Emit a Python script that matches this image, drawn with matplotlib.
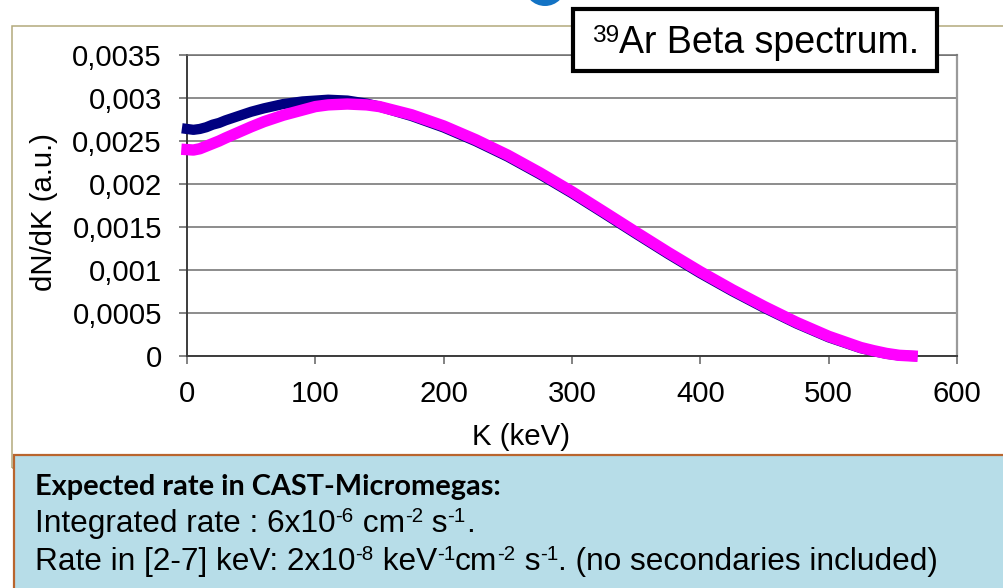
import matplotlib
matplotlib.use("Agg")
import matplotlib.pyplot as plt
from matplotlib.patches import Rectangle, Ellipse

# ---- data -------------------------------------------------------------
energy_kev = [0, 5, 10, 15, 20, 25, 30, 40, 50, 60, 75, 90, 100, 110, 125,
              140, 150, 175, 200, 225, 250, 275, 300, 325, 350, 375, 400,
              425, 450, 475, 500, 525, 535, 545, 555, 565]

spectrum_navy = [0.00264, 0.00263, 0.00264, 0.00266, 0.00269, 0.00271,
                 0.00274, 0.00279, 0.00284, 0.00288, 0.00293, 0.00296,
                 0.00297, 0.00298, 0.00297, 0.002935, 0.00290, 0.00279,
                 0.002657, 0.002497, 0.002317, 0.002112, 0.001892, 0.001657,
                 0.001420, 0.001186, 0.000962, 0.000753, 0.000558, 0.000377,
                 0.000217, 0.000091, 0.000056, 0.000026, 0.000006, 0.0]

spectrum_magenta = [0.00240, 0.002395, 0.00241, 0.00244, 0.00247, 0.00250,
                    0.002535, 0.00260, 0.002665, 0.002725, 0.00280, 0.00286,
                    0.00290, 0.00292, 0.00293, 0.00292, 0.00290, 0.002805,
                    0.002675, 0.002515, 0.002335, 0.002130, 0.001910,
                    0.001675, 0.001438, 0.001204, 0.000980, 0.000770,
                    0.000574, 0.000391, 0.000229, 0.000099, 0.000062,
                    0.000030, 0.000008, 0.0]

x_ticks = [0, 100, 200, 300, 400, 500, 600]
y_ticks = [0, 0.0005, 0.001, 0.0015, 0.002, 0.0025, 0.003, 0.0035]
y_tick_labels = ["0", "0,0005", "0,001", "0,0015", "0,002", "0,0025",
                 "0,003", "0,0035"]

x_label = "K (keV)"
y_label = "dN/dK (a.u.)"
title_parts = [("39", True), ("Ar Beta spectrum.", False)]
box_heading = "Expected rate in CAST-Micromegas:"
box_line1 = [("Integrated rate : 6x10", False), ("-6", True), (" cm", False),
             ("-2", True), (" s", False), ("-1", True), (".", False)]
box_line2 = [("Rate in [2-7] keV: 2x10", False), ("-8", True), (" keV", False),
             ("-1", True), ("cm", False), ("-2", True), (" s", False),
             ("-1", True), (". (no secondaries included)", False)]

# ---- figure -----------------------------------------------------------
W, H, DPI = 1004, 588, 100
SANS = "Liberation Sans"
AXIS_FS = 21.2
fig = plt.figure(figsize=(W / DPI, H / DPI), dpi=DPI)
fig.patch.set_facecolor("white")
renderer = fig.canvas.get_renderer()


def fx(px):
    return px / W


def fy(py):
    return 1 - py / H


def text_width(s, size, family, weight="normal"):
    a = fig.text(0, 0, "|" + s + "|", fontsize=size, family=family, weight=weight)
    b = fig.text(0, 0, "||", fontsize=size, family=family, weight=weight)
    w = a.get_window_extent(renderer).width - b.get_window_extent(renderer).width
    a.remove()
    b.remove()
    return w


def rich_text(x, y, parts, size, family=SANS, weight="normal",
              sup_scale=0.65, rise=0.30, zorder=10):
    for s, sup in parts:
        fs = size * sup_scale if sup else size
        dy = size * rise * DPI / 72 if sup else 0
        fig.text(fx(x), fy(y - dy), s, fontsize=fs, family=family,
                 weight=weight, ha="left", va="baseline", zorder=zorder)
        x += text_width(s, fs, family, weight)


# chart frame
fig.add_artist(Rectangle((fx(12), fy(468)), fx(1000), (468 - 26) / H,
                         transform=fig.transFigure, facecolor="none",
                         edgecolor="#b3a97c", lw=1.1, zorder=1))

# plot area
left, right, top, bottom = 187, 957, 55, 356
ax = fig.add_axes([fx(left), fy(bottom), (right - left) / W, (bottom - top) / H])
ax.set_xlim(0, 600)
ax.set_ylim(0, 0.0035)

ax.plot(energy_kev, spectrum_navy, color="#000080", lw=7.4,
        solid_capstyle="projecting", solid_joinstyle="round", clip_on=False,
        zorder=3)
ax.plot(energy_kev, spectrum_magenta, color="#ff00ff", lw=8.2,
        solid_capstyle="projecting", solid_joinstyle="round", clip_on=False,
        zorder=4)

ax.set_xticks(x_ticks)
ax.set_xticklabels([str(t) for t in x_ticks])
ax.set_yticks(y_ticks)
ax.set_yticklabels(y_tick_labels)
for lab in ax.get_xticklabels() + ax.get_yticklabels():
    lab.set_family(SANS)
    lab.set_fontsize(AXIS_FS)
ax.tick_params(axis="both", direction="out", length=6, width=1.1,
               color="#606060")
ax.tick_params(axis="x", pad=11)
ax.tick_params(axis="y", pad=12)

ax.grid(axis="y", color="#6e6e6e", lw=1.1)
ax.set_axisbelow(True)
for side in ("left", "bottom"):
    ax.spines[side].set_color("#3c3c3c")
    ax.spines[side].set_linewidth(1.4)
ax.spines["right"].set_color("#9a9a9a")
ax.spines["right"].set_linewidth(1.6)
ax.spines["top"].set_color("#6e6e6e")
ax.spines["top"].set_linewidth(1.1)

fig.text(fx(44), fy(212), y_label, rotation=90, ha="center", va="center",
         family=SANS, fontsize=AXIS_FS)
fig.text(fx(521), fy(437), x_label, ha="center", va="center",
         family=SANS, fontsize=AXIS_FS)

# title box
fig.add_artist(Rectangle((fx(573), fy(71)), (937 - 573) / W, (71 - 9) / H,
                         transform=fig.transFigure, facecolor="white",
                         edgecolor="black", lw=3.0, zorder=8))
rich_text(592, 53, title_parts, 27)

# blue marker at top edge
fig.add_artist(Ellipse((fx(545), fy(-15)), 42 / W, 42 / H,
                       transform=fig.transFigure, facecolor="#1373c4",
                       edgecolor="none", zorder=8))

# info box
fig.add_artist(Rectangle((fx(14), fy(600)), fx(1000), (600 - 455) / H,
                         transform=fig.transFigure, facecolor="#b7dde8",
                         edgecolor="#b9652e", lw=1.6, zorder=6))
fig.text(fx(35), fy(495), box_heading, family="Lato", weight="bold",
         fontsize=20.8, ha="left", va="baseline", zorder=10)
rich_text(35, 532, box_line1, 22.8)
rich_text(35, 570, box_line2, 22.8)

fig.savefig("out.png", dpi=DPI)
